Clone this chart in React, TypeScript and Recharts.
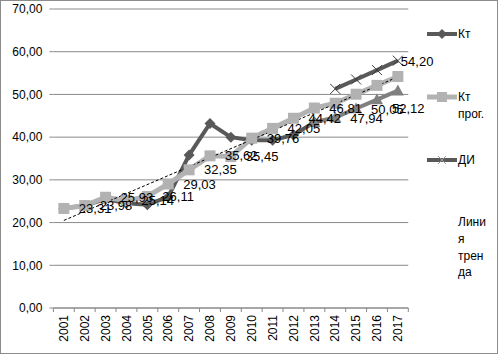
import React from 'react';
import { LineChart, Line, XAxis, YAxis, CartesianGrid, LabelList, Legend } from 'recharts';

const years = ['2001','2002','2003','2004','2005','2006','2007','2008','2009','2010','2011','2012','2013','2014','2015','2016','2017'];
const kt = [23.3, 24.0, 25.5, 24.5, 24.2, 26.0, 35.8, 43.2, 40.0, 39.3, 39.3, 40.5, 43.5, null, null, null, null];
const ktProg = [23.31, 23.98, 25.93, 25.14, 26.11, 29.03, 32.35, 35.62, 35.45, 39.76, 42.05, 44.42, 46.81, 47.94, 50.05, 52.12, 54.2];
const diUpper = [null, null, null, null, null, null, null, null, null, null, null, null, null, 51.3, 53.5, 55.7, 57.9];
const diLower = [null, null, null, null, null, null, null, null, null, null, null, null, 43.5, 44.6, 46.7, 48.8, 50.9];
const trend = [20.5, null, null, null, null, null, null, null, null, null, null, null, null, null, null, null, 54.1];
const yTicks = [0, 10, 20, 30, 40, 50, 60, 70];

const data = years.map((y, i) => ({
  year: y,
  kt: kt[i],
  prog: ktProg[i],
  up: diUpper[i],
  low: diLower[i],
  trend: trend[i],
}));

const W = 500;
const H = 357;
const LEFT = 53.4;
const RIGHT = 91.7;
const TOP = 9;
const XH = 49;
const PLOT_W = W - LEFT - RIGHT;
const HALF = PLOT_W / years.length / 2;
const FONT = '"Liberation Sans", Arial, sans-serif';

const DARK = '#595959';
const LIGHT = '#b2b2b2';
const MID = '#808080';

const fmt = (v: number) => v.toFixed(2).replace('.', ',');

const Diamond = (p: any) => {
  const { cx, cy, index } = p;
  if (cx == null || cy == null || p.value == null) return <g key={`d${index}`} />;
  const r = 5.5;
  return <polygon key={`d${index}`} points={`${cx},${cy - r} ${cx + r},${cy} ${cx},${cy + r} ${cx - r},${cy}`} fill={DARK} />;
};

const Square = (p: any) => {
  const { cx, cy, index } = p;
  if (cx == null || cy == null || p.value == null) return <g key={`s${index}`} />;
  const r = 5.5;
  return <rect key={`s${index}`} x={cx - r} y={cy - r} width={2 * r} height={2 * r} fill={LIGHT} />;
};

const Cross = (p: any) => {
  const { cx, cy, index } = p;
  if (cx == null || cy == null || p.value == null) return <g key={`c${index}`} />;
  const r = 5;
  return (
    <g key={`c${index}`}>
      <line x1={cx - r} y1={cy - r} x2={cx + r} y2={cy + r} stroke="#3a3a3a" strokeWidth={1} />
      <line x1={cx - r} y1={cy + r} x2={cx + r} y2={cy - r} stroke="#3a3a3a" strokeWidth={1} />
    </g>
  );
};

const Tri = (p: any) => {
  const { cx, cy, index } = p;
  if (cx == null || cy == null || p.value == null) return <g key={`t${index}`} />;
  const r = 6;
  return <polygon key={`t${index}`} points={`${cx},${cy - r} ${cx + r},${cy + r * 0.8} ${cx - r},${cy + r * 0.8}`} fill={MID} />;
};

const ProgLabel = (p: any) => {
  const { x, y, value, index } = p;
  if (value == null) return null;
  let dx = 15;
  let dy = 0;
  if (index === 13 || index === 14) dy = 15;
  if (index === 15) dy = 23;
  if (index === 16) { dx = 3; dy = -15; }
  return (
    <text x={x + dx} y={y + dy} dy="0.35em" fontSize={13} fontFamily={FONT} fill="#000">{fmt(value)}</text>
  );
};

const XTick = (p: any) => {
  const { x, y, payload, index } = p;
  const last = index === years.length - 1;
  return (
    <g>
      <line x1={x - HALF} y1={y} x2={x - HALF} y2={y + 4} stroke="#888" />
      {last && <line x1={x + HALF} y1={y} x2={x + HALF} y2={y + 4} stroke="#888" />}
      <text
        x={x}
        y={y + 7}
        dy="0.35em"
        textAnchor="end"
        transform={`rotate(-90, ${x}, ${y + 7})`}
        fontSize={12}
        fontFamily={FONT}
        fill="#000"
      >
        {payload.value}
      </text>
    </g>
  );
};

const LegendBox = () => {
  const tx = 33;
  const lx1 = 2;
  const lx2 = 32;
  const mx = 17;
  const ts = { fontSize: 12, fontFamily: FONT, fill: '#000' } as any;
  return (
    <svg width={75} height={H} style={{ display: 'block' }}>
      <line x1={lx1} y1={34} x2={lx2} y2={34} stroke={DARK} strokeWidth={4} />
      <polygon points={`${mx},29 ${mx + 5},34 ${mx},39 ${mx - 5},34`} fill={DARK} />
      <text x={tx} y={34} dy="0.35em" {...ts}>Кт</text>

      <line x1={lx1} y1={97} x2={lx2} y2={97} stroke={LIGHT} strokeWidth={5} />
      <rect x={mx - 5} y={92} width={10} height={10} fill={LIGHT} />
      <text x={tx} y={97} dy="0.35em" {...ts}>Кт</text>
      <text x={tx} y={114} dy="0.35em" {...ts}>прог.</text>

      <line x1={lx1} y1={160} x2={lx2} y2={160} stroke={DARK} strokeWidth={4} />
      <line x1={mx - 4} y1={156} x2={mx + 4} y2={164} stroke="#9a9a9a" strokeWidth={1} />
      <line x1={mx - 4} y1={164} x2={mx + 4} y2={156} stroke="#9a9a9a" strokeWidth={1} />
      <text x={tx} y={160} dy="0.35em" {...ts}>ДИ</text>

      <text x={tx} y={222} dy="0.35em" {...ts}>Лини</text>
      <text x={tx} y={239} dy="0.35em" {...ts}>я</text>
      <text x={tx} y={256} dy="0.35em" {...ts}>трен</text>
      <text x={tx} y={272} dy="0.35em" {...ts}>да</text>
    </svg>
  );
};

export default function App() {
  return (
    <div style={{ position: 'absolute', left: 0, top: 0, width: W, height: H, background: '#fff' }}>
      <div style={{ position: 'absolute', left: 0, top: 0, width: 498, height: 354, border: '1px solid #8c8c8c', boxSizing: 'border-box' }} />
      <div style={{ position: 'absolute', left: 0, top: 0 }}>
        <LineChart width={W} height={H} data={data} margin={{ top: TOP, right: RIGHT, bottom: 0, left: 0 }}>
          <CartesianGrid horizontal vertical={false} stroke="#8a8a8a" />
          <XAxis
            dataKey="year"
            height={XH}
            padding={{ left: HALF, right: HALF }}
            interval={0}
            tickSize={0}
            tickMargin={0}
            axisLine={{ stroke: '#8a8a8a' }}
            tickLine={false}
            tick={<XTick />}
          />
          <YAxis
            domain={[0, 70]}
            ticks={yTicks}
            width={LEFT}
            axisLine={false}
            tickSize={4}
            tickMargin={7}
            tickLine={{ stroke: '#8a8a8a' }}
            tickFormatter={fmt}
            tick={{ fontSize: 12, fontFamily: FONT, fill: '#000' }}
            interval={0}
          />
          <Legend
            layout="horizontal"
            verticalAlign="middle"
            align="center"
            wrapperStyle={{ left: 425, top: 0, width: 75, height: H }}
            content={() => <LegendBox />}
          />
          <Line dataKey="kt" stroke={DARK} strokeWidth={4} dot={Diamond} isAnimationActive={false} connectNulls={false} />
          <Line dataKey="prog" stroke={LIGHT} strokeWidth={5} dot={Square} isAnimationActive={false} />
          <Line dataKey="up" stroke={DARK} strokeWidth={4} dot={Cross} isAnimationActive={false} />
          <Line dataKey="low" stroke={MID} strokeWidth={4} dot={Tri} isAnimationActive={false} />
          <Line dataKey="trend" stroke="#000" strokeWidth={1} strokeDasharray="3 2" dot={false} connectNulls isAnimationActive={false} />
          <Line dataKey="prog" stroke="none" dot={false} isAnimationActive={false} legendType="none">
            <LabelList dataKey="prog" content={ProgLabel} />
          </Line>
        </LineChart>
      </div>
    </div>
  );
}
